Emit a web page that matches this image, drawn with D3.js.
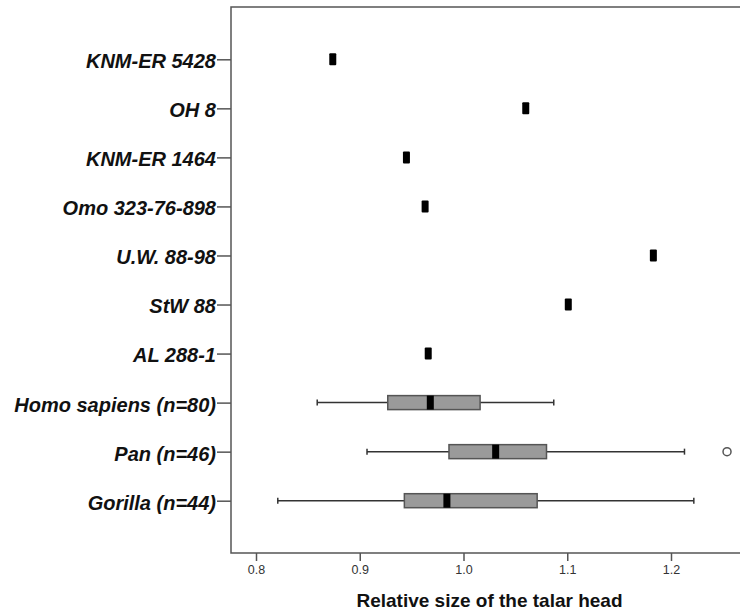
<!DOCTYPE html>
<html>
<head>
<meta charset="utf-8">
<script src="https://cdn.jsdelivr.net/npm/d3@7"></script>
<style>
  html, body { margin: 0; padding: 0; background: #fff; }
  svg { display: block; }
  text { font-family: "Liberation Sans", Arial, sans-serif; }
</style>
</head>
<body>
<svg id="chart" width="740" height="613"></svg>
<script>
// Fossil specimens (single values)
const specimens = ["KNM-ER 5428", "OH 8", "KNM-ER 1464", "Omo 323-76-898", "U.W. 88-98", "StW 88", "AL 288-1"];
const specimenValues = [0.874, 1.060, 0.945, 0.963, 1.183, 1.101, 0.966];

// Extant samples (box plots)
const groups = ["Homo sapiens (n=80)", "Pan (n=46)", "Gorilla (n=44)"];
const whiskerLow = [0.859, 0.907, 0.821];
const q1 = [0.927, 0.986, 0.943];
const median = [0.968, 1.031, 0.984];
const q3 = [1.016, 1.080, 1.071];
const whiskerHigh = [1.087, 1.213, 1.222];
const outliers = [[], [1.254], []];

const xTicks = [0.8, 0.9, 1.0, 1.1, 1.2];
const xTitle = "Relative size of the talar head";

const svg = d3.select("#chart");
const frame = { left: 231, top: 7, right: 742, bottom: 553 };

const x = d3.scaleLinear().domain([0.8, 1.2]).range([256, 671]);
const y = d3.scalePoint()
  .domain(specimens.concat(groups))
  .range([59.3, 500.7]);

// Frame lines (left, top, bottom)
const frameColor = "#555";
svg.append("path")
  .attr("d", `M${frame.right},${frame.top}H${frame.left}V${frame.bottom}H${frame.right}`)
  .attr("fill", "none")
  .attr("stroke", frameColor)
  .attr("stroke-width", 1.5);

// Category axis
const yAxis = svg.append("g")
  .attr("transform", `translate(${frame.left},0)`)
  .call(d3.axisLeft(y).tickSize(14).tickPadding(1));
yAxis.select(".domain").remove();
yAxis.selectAll(".tick line").attr("stroke", frameColor).attr("stroke-width", 1.5);
yAxis.selectAll(".tick text")
  .attr("fill", "#111")
  .attr("dy", "0.42em")
  .style("font-size", "20px")
  .style("font-weight", "bold")
  .style("font-style", "italic")
  .style("font-family", "'Liberation Sans', Arial, sans-serif");

// Value axis
const xAxis = svg.append("g")
  .attr("transform", `translate(0,${frame.bottom})`)
  .call(d3.axisBottom(x).tickValues(xTicks).tickFormat(d3.format(".1f")).tickSize(8).tickPadding(4));
xAxis.select(".domain").remove();
xAxis.selectAll(".tick line").attr("stroke", frameColor).attr("stroke-width", 1.5);
xAxis.selectAll(".tick text")
  .attr("fill", "#333")
  .style("font-size", "12.5px")
  .style("font-family", "'Liberation Sans', Arial, sans-serif");

svg.append("text")
  .attr("x", (x(0.8) + x(1.2)) / 2 + 26)
  .attr("y", 607)
  .attr("text-anchor", "middle")
  .attr("fill", "#111")
  .style("font-size", "19px")
  .style("font-weight", "bold")
  .text(xTitle);

// Specimen markers
const mw = 7, mh = 12;
svg.append("g").selectAll("rect")
  .data(specimens)
  .join("rect")
  .attr("x", (d, i) => x(specimenValues[i]) - mw / 2)
  .attr("y", d => y(d) - mh / 2)
  .attr("width", mw)
  .attr("height", mh)
  .attr("rx", 1)
  .attr("fill", "#000");

// Box plots
const boxH = 14;
const bp = svg.append("g");
groups.forEach((g, i) => {
  const cy = y(g);
  const gg = bp.append("g");
  // whiskers
  gg.append("line")
    .attr("x1", x(whiskerLow[i])).attr("x2", x(q1[i]))
    .attr("y1", cy).attr("y2", cy)
    .attr("stroke", "#333").attr("stroke-width", 1.5);
  gg.append("line")
    .attr("x1", x(q3[i])).attr("x2", x(whiskerHigh[i]))
    .attr("y1", cy).attr("y2", cy)
    .attr("stroke", "#333").attr("stroke-width", 1.5);
  [whiskerLow[i], whiskerHigh[i]].forEach(v => {
    gg.append("line")
      .attr("x1", x(v)).attr("x2", x(v))
      .attr("y1", cy - 3).attr("y2", cy + 3)
      .attr("stroke", "#333").attr("stroke-width", 1.5);
  });
  // box
  gg.append("rect")
    .attr("x", x(q1[i])).attr("y", cy - boxH / 2)
    .attr("width", x(q3[i]) - x(q1[i])).attr("height", boxH)
    .attr("fill", "#9a9a9a").attr("stroke", "#555").attr("stroke-width", 1.5);
  // median
  gg.append("rect")
    .attr("x", x(median[i]) - 3.5).attr("y", cy - boxH / 2)
    .attr("width", 7).attr("height", boxH)
    .attr("fill", "#000");
  // outliers
  outliers[i].forEach(v => {
    gg.append("circle")
      .attr("cx", x(v)).attr("cy", cy).attr("r", 4)
      .attr("fill", "#fff").attr("stroke", "#555").attr("stroke-width", 1.5);
  });
});
</script>
</body>
</html>
